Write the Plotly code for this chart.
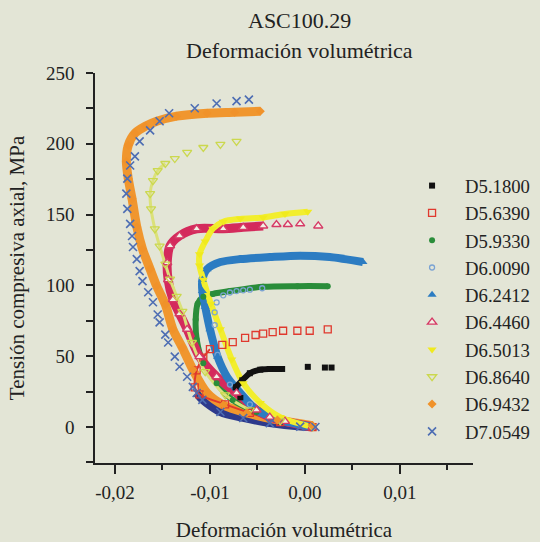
import plotly.graph_objects as go

# ---------------- data ----------------
series_names = ["D5.1800", "D5.6390", "D5.9330", "D6.0090", "D6.2412",
                "D6.4460", "D6.5013", "D6.8640", "D6.9432", "D7.0549"]

x_D5_1800 = [0.0008, -0.0026, -0.0053, -0.0068, -0.0073, -0.0066, -0.0058, -0.0047, -0.0037, -0.0024, 0.0003, 0.0021, 0.0028]
y_D5_1800 = [0, 4, 12, 21, 28, 33, 38, 40.5, 41, 41, 42.5, 42, 42]

x_D5_6390 = [0.0008, -0.0026, -0.0058, -0.0084, -0.0111, -0.0116, -0.0114, -0.0107, -0.0100, -0.0087, -0.0076,
             -0.0063, -0.0052, -0.0044, -0.0034, -0.0023, -0.0008, 0.0005, 0.0024]
y_D5_6390 = [0, 3.5, 10, 16, 23, 28, 40, 49, 55, 58, 60, 63, 65, 66, 67, 68, 68, 68, 69]

x_D5_9330 = [0.0008, -0.0026, -0.0051, -0.0076, -0.0093, -0.0107, -0.0114, -0.0115, -0.0113, -0.0107, -0.0097,
             -0.0079, -0.0044, -0.0008, 0.0024]
y_D5_9330 = [0, 4, 10.6, 19, 31, 45, 62, 76, 87, 92, 94, 96, 99, 99.5, 99.5]

x_D6_0090 = [0.0008, -0.0026, -0.0058, -0.0079, -0.0092, -0.0095, -0.0095, -0.0093, -0.0086, -0.0079, -0.0072,
             -0.0065, -0.0058, -0.0045]
y_D6_0090 = [0, 5, 16, 30, 51, 72, 81, 88, 93, 95, 96, 96.5, 97, 98]

x_D6_2412 = [0.0008, -0.0026, -0.0051, -0.0068, -0.0082, -0.0092, -0.0100, -0.0105, -0.0108, -0.0108, -0.0103,
             -0.0089, -0.0068, -0.0037, -0.0005, 0.0026, 0.0061]
y_D6_2412 = [0, 5, 12, 24, 35.5, 49.7, 69, 85, 96, 104, 111.5, 116.5, 118.6, 120, 121, 120, 116.5]

x_D6_4460 = [0.0008, -0.0021, -0.0037, -0.0051, -0.0072, -0.0093, -0.0111, -0.0124, -0.0132, -0.0139, -0.0144,
             -0.0145, -0.0142, -0.0132, -0.0114, -0.0086, -0.0065, -0.0044, -0.0030, -0.0018, -0.0005, 0.0014]
y_D6_4460 = [0, 4, 7, 12, 24, 35.5, 49.7, 69, 80, 90, 104, 116, 128, 135, 140, 140, 141, 142, 143, 143, 143.5, 142]

x_D6_5013 = [0.0008, -0.0026, -0.0047, -0.0065, -0.0077, -0.0089, -0.0099, -0.0107, -0.0111, -0.0111, -0.0105,
             -0.0097, -0.0086, -0.0068, -0.0044, -0.0021, 0.0003]
y_D6_5013 = [0, 7, 17, 31, 47.6, 69, 87, 104, 114, 122, 131, 140, 145, 147, 148, 150.5, 152]

x_D6_8640 = [0.0008, -0.0026, -0.0058, -0.0084, -0.0105, -0.0119, -0.0129, -0.0135, -0.0142, -0.0147, -0.0153,
             -0.0158, -0.0162, -0.0163, -0.0160, -0.0155, -0.0147, -0.0137, -0.0124, -0.0107, -0.0089, -0.0072]
y_D6_8640 = [0, 4.3, 12.1, 22.7, 39.1, 59.7, 81.7, 92.3, 104.4, 115.1, 127.8, 139.9, 154.1, 164.8, 174.0, 181.1,
             186.1, 189.6, 193.9, 197.4, 199.6, 201.7]

x_D6_9432 = [0.0008, -0.0029, -0.0061, -0.0086, -0.0103, -0.0118, -0.0129, -0.0139, -0.0147, -0.0156,
             -0.0163, -0.0171, -0.0177, -0.0182, -0.0186, -0.0188, -0.0186, -0.0179, -0.0168, -0.0156, -0.0135,
             -0.0103, -0.0074, -0.0047]
y_D6_9432 = [1, 5, 10, 15.6, 24, 40.5, 56, 69, 86.6, 99.4, 111.5, 125.7, 141.3, 161.2, 175.4,
             187.5, 198.9, 207.4, 212.4, 215.9, 219.5, 221.6, 222.3, 223.0]

x_D7_0549 = [0.0011, -0.0005, -0.0037, -0.0065, -0.0089, -0.0108, -0.0114, -0.0118, -0.0124, -0.0132, -0.0137,
             -0.0144, -0.0147, -0.0153, -0.0155, -0.0160, -0.0165, -0.0171, -0.0174, -0.0177, -0.0181, -0.0182,
             -0.0184, -0.0187, -0.0188, -0.0187, -0.0184, -0.0179, -0.0174, -0.0163, -0.0153, -0.0143, -0.0116,
             -0.0093, -0.0072, -0.0059]
y_D7_0549 = [0.0, 0.3, 2.8, 6.4, 10.6, 19.2, 24.0, 28.4, 35.5, 42.6, 49.7, 59.7, 65.3, 73.9, 79.5, 88.1, 95.2,
             103.0, 110.1, 118.6, 127.1, 134.9, 143.5, 154.1, 164.8, 175.4, 184.7, 191.1, 201.7, 209.5, 215.9,
             221.6, 225.1, 228.5, 230.1, 231.2]

x_tick_vals = [-0.02, -0.01, 0.0, 0.01]
x_tick_text = ["-0,02", "-0,01", "0,00", "0,01"]
x_minor_vals = [-0.015, -0.005, 0.005, 0.015]
y_tick_vals = [0, 50, 100, 150, 200, 250]

data_x = {"D5.1800": x_D5_1800, "D5.6390": x_D5_6390, "D5.9330": x_D5_9330, "D6.0090": x_D6_0090,
          "D6.2412": x_D6_2412, "D6.4460": x_D6_4460, "D6.5013": x_D6_5013, "D6.8640": x_D6_8640,
          "D6.9432": x_D6_9432, "D7.0549": x_D7_0549}
data_y = {"D5.1800": y_D5_1800, "D5.6390": y_D5_6390, "D5.9330": y_D5_9330, "D6.0090": y_D6_0090,
          "D6.2412": y_D6_2412, "D6.4460": y_D6_4460, "D6.5013": y_D6_5013, "D6.8640": y_D6_8640,
          "D6.9432": y_D6_9432, "D7.0549": y_D7_0549}

# ---------------- styles ----------------
BG = "#e3e5d6"
INK = "#222222"
FONT = "Liberation Serif"

# bands: (first index, end index, line width, colour) -> dense parts drawn as a thick line
styles = {
    "D5.1800": dict(color="#111111", symbol="square", size=6, fill=None, bands=[(4, 10, 6, "#111111")]),
    "D5.6390": dict(color="#e0392e", symbol="square-open", size=7, fill=None, bands=[(0, 9, 2, "#e0392e")]),
    "D5.9330": dict(color="#2a8d3a", symbol="circle", size=6, fill=None, bands=[(0, 15, 6, "#2a8d3a")]),
    "D6.0090": dict(color="#7ba3d3", symbol="circle-open", size=5, fill=None, bands=[]),
    "D6.2412": dict(color="#2c7cc2", symbol="triangle-up", size=8, fill=None, bands=[(0, 17, 8, "#2c7cc2")]),
    "D6.4460": dict(color="#d63a66", symbol="triangle-up", size=8, fill="#f3f1e6", bands=[(0, 18, 9, "#d42a5c")]),
    "D6.5013": dict(color="#f0ea1e", symbol="triangle-down", size=8, fill=None, bands=[(0, 17, 6, "#f2ee2e")]),
    "D6.8640": dict(color="#cbd84e", symbol="triangle-down-open", size=8, fill=None, bands=[(0, 17, 3, "#dbe17a")]),
    "D6.9432": dict(color="#f0922a", symbol="diamond", size=7, fill=None, bands=[(0, 24, 9, "#f0962e")]),
    "D7.0549": dict(color="#4d6db3", symbol="x-thin", size=8, fill=None, bands=[(0, 7, 8, "#2d3a8c")]),
}

band_order = ["D7.0549", "D6.9432", "D5.6390", "D5.9330", "D6.0090", "D6.4460",
              "D6.8640", "D6.2412", "D6.5013", "D5.1800"]

fig = go.Figure()

for name in band_order:
    st = styles[name]
    xs, ys = data_x[name], data_y[name]
    for (i0, i1, w, c) in st["bands"]:
        fig.add_trace(go.Scatter(
            x=xs[i0:i1], y=ys[i0:i1], mode="lines",
            line=dict(color=c, width=w, shape="spline", smoothing=0.8),
            showlegend=False, hoverinfo="skip", legendgroup=name))

for name in series_names:
    st = styles[name]
    if st["symbol"] == "x-thin":
        marker = dict(symbol="x-thin", size=st["size"], color=st["color"],
                      line=dict(color=st["color"], width=1.6))
    elif st["fill"] is not None:
        marker = dict(symbol=st["symbol"], size=st["size"], color=st["fill"],
                      line=dict(color=st["color"], width=1.4))
    elif st["symbol"].endswith("-open"):
        marker = dict(symbol=st["symbol"], size=st["size"], color=st["color"],
                      line=dict(color=st["color"], width=1.3))
    else:
        marker = dict(symbol=st["symbol"], size=st["size"], color=st["color"], line=dict(width=0))
    fig.add_trace(go.Scatter(x=data_x[name], y=data_y[name], mode="markers", name=name,
                             marker=marker, legendgroup=name))

axis_common = dict(showline=True, linecolor=INK, linewidth=1.5, ticks="outside", tickwidth=1.5,
                   tickcolor=INK, showgrid=False, zeroline=False, automargin=False,
                   tickfont=dict(family=FONT, size=19, color=INK))

fig.update_layout(
    width=540, height=542,
    margin=dict(l=95, r=67, t=73, b=79, autoexpand=False),
    paper_bgcolor=BG, plot_bgcolor=BG,
    font=dict(family=FONT, color=INK),
    showlegend=True,
    legend=dict(xref="container", yref="container", x=0.739, y=0.692, xanchor="left", yanchor="top",
                bgcolor="rgba(0,0,0,0)", font=dict(family=FONT, size=18.7, color=INK),
                itemwidth=56, tracegroupgap=0, maxheight=400),
    xaxis=dict(range=[-0.0221, 0.01769], tickvals=x_tick_vals, ticktext=x_tick_text, ticklen=9,
               ticklabelstandoff=2,
               minor=dict(tickvals=x_minor_vals, ticklen=5, tickwidth=1.5, tickcolor=INK, ticks="outside"),
               title=dict(text="Deformación volumétrica", font=dict(family=FONT, size=21, color=INK), standoff=23),
               **axis_common),
    yaxis=dict(range=[-25.4, 250], tickvals=y_tick_vals, ticklen=7, ticklabelstandoff=8,
               minor=dict(dtick=25, tick0=0, ticklen=7, tickwidth=1.5, tickcolor=INK, ticks="outside"),
               title=dict(text="Tensión compresiva axial, MPa", font=dict(family=FONT, size=21, color=INK),
                          standoff=16),
               **axis_common),
    annotations=[
        dict(text="ASC100.29", xref="paper", yref="paper", x=0.542, y=(463 - 20) / 390,
             xanchor="center", yanchor="middle", showarrow=False, font=dict(family=FONT, size=22, color=INK)),
        dict(text="Deformación volumétrica", xref="paper", yref="paper", x=0.542, y=(463 - 50) / 390,
             xanchor="center", yanchor="middle", showarrow=False, font=dict(family=FONT, size=22, color=INK)),
    ],
)

fig.write_html("out.html", config={"displayModeBar": False},
               post_script="document.body.style.margin='0';")
